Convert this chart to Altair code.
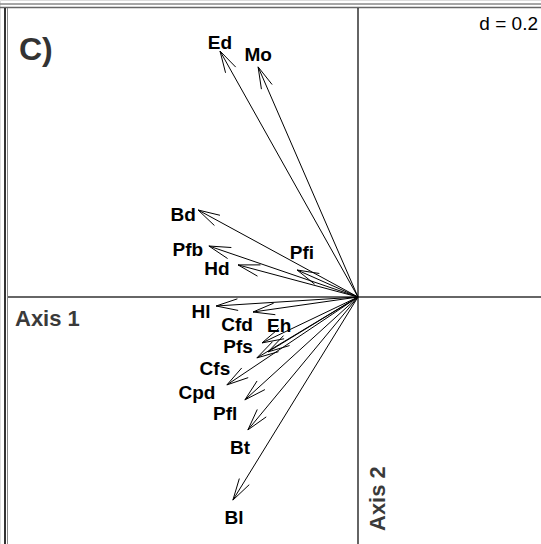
import math
import altair as alt
import pandas as pd

# Variable names
labels = ["Ed", "Mo", "Bd", "Pfb", "Hd", "Pfi", "Hl", "Cfd", "Eh", "Pfs",
          "Cfs", "Cpd", "Pfl", "Bt", "Bl"]
# Arrow tip coordinates (axis 1, axis 2)
tip_x = [-0.460, -0.333, -0.533, -0.497, -0.400, -0.203, -0.473, -0.350, -0.320, -0.337,
         -0.300, -0.437, -0.377, -0.367, -0.417]
tip_y = [0.820, 0.767, 0.290, 0.170, 0.107, 0.090, -0.030, -0.050, -0.153, -0.203,
         -0.183, -0.293, -0.343, -0.443, -0.677]
# Label positions
lab_x = [-0.460, -0.333, -0.583, -0.567, -0.470, -0.187, -0.523, -0.403, -0.263, -0.400,
         -0.477, -0.537, -0.443, -0.393, -0.413]
lab_y = [0.847, 0.807, 0.273, 0.157, 0.093, 0.147, -0.050, -0.093, -0.097, -0.167,
         -0.240, -0.320, -0.390, -0.503, -0.737]

W, H = 541, 544
K = 300.0  # pixels per unit
OX, OY = 358, 297
XMIN, XMAX = -OX / K, (W - OX) / K
YMIN, YMAX = -(H - OY) / K, OY / K

HEAD = 0.075
ANG = math.radians(15)

segs = []
for lab, tx, ty in zip(labels, tip_x, tip_y):
    segs.append(dict(x=0.0, y=0.0, x2=tx, y2=ty))
    n = math.hypot(tx, ty)
    ux, uy = -tx / n, -ty / n
    for s in (1, -1):
        c, sn = math.cos(s * ANG), math.sin(s * ANG)
        bx = ux * c - uy * sn
        by = ux * sn + uy * c
        segs.append(dict(x=tx, y=ty, x2=tx + HEAD * bx, y2=ty + HEAD * by))
seg_df = pd.DataFrame(segs)
lab_df = pd.DataFrame(dict(label=labels, x=lab_x, y=lab_y))

xs = alt.Scale(domain=[XMIN, XMAX], nice=False, zero=False)
ys = alt.Scale(domain=[YMIN, YMAX], nice=False, zero=False)

arrows = alt.Chart(seg_df).mark_rule(color="black", strokeWidth=1).encode(
    x=alt.X("x:Q", scale=xs, axis=None),
    y=alt.Y("y:Q", scale=ys, axis=None),
    x2="x2:Q", y2="y2:Q")

texts = alt.Chart(lab_df).mark_text(font="Liberation Sans", fontWeight="bold", fontSize=19,
                                    color="black", baseline="middle", align="center").encode(
    x=alt.X("x:Q", scale=xs, axis=None),
    y=alt.Y("y:Q", scale=ys, axis=None),
    text="label:N")

hline = alt.Chart(pd.DataFrame({"v": [0.0]})).mark_rule(color="#333", strokeWidth=1.5).encode(
    y=alt.Y("v:Q", scale=ys, axis=None), x=alt.value(8), x2=alt.value(W))
vline = alt.Chart(pd.DataFrame({"v": [0.0]})).mark_rule(color="#111", strokeWidth=1.3).encode(
    x=alt.X("v:Q", scale=xs, axis=None), y=alt.value(8), y2=alt.value(H))

one = pd.DataFrame({"a": [0]})
top1 = alt.Chart(one).mark_rule(color="#888", strokeWidth=1.5).encode(
    y=alt.value(4), x=alt.value(0), x2=alt.value(W))
top2 = alt.Chart(one).mark_rule(color="#666", strokeWidth=1.5).encode(
    y=alt.value(7.5), x=alt.value(0), x2=alt.value(W))
left1 = alt.Chart(one).mark_rule(color="#333", strokeWidth=2).encode(
    x=alt.value(5), y=alt.value(8), y2=alt.value(H))
left2 = alt.Chart(one).mark_rule(color="#888", strokeWidth=1).encode(
    x=alt.value(7.5), y=alt.value(8), y2=alt.value(H))

title_c = alt.Chart(one).mark_text(text="C)", font="Liberation Sans", fontWeight="bold",
                                   fontSize=32, color="#333", align="left",
                                   baseline="alphabetic").encode(x=alt.value(19), y=alt.value(60))
dtext = alt.Chart(one).mark_text(text="d = 0.2", font="Liberation Sans", fontSize=19,
                                 color="black", align="right",
                                 baseline="alphabetic").encode(x=alt.value(538), y=alt.value(30))
ax1 = alt.Chart(one).mark_text(text="Axis 1", font="Liberation Sans", fontWeight="bold",
                               fontSize=22, color="#3a3a3a", align="left",
                               baseline="alphabetic").encode(x=alt.value(15), y=alt.value(326))
ax2 = alt.Chart(one).mark_text(text="Axis 2", font="Liberation Sans", fontWeight="bold",
                               fontSize=22, color="#3a3a3a", align="left", angle=270,
                               baseline="alphabetic").encode(x=alt.value(385), y=alt.value(531))

chart = alt.layer(top1, top2, left1, left2, hline, vline, arrows, texts,
                  title_c, dtext, ax1, ax2).properties(
    width=W, height=H, padding=0,
    autosize=alt.AutoSizeParams(type="none")
).configure_view(stroke=None).configure(background="white")

chart.save("out.html", embed_options={"renderer": "svg", "actions": False})
